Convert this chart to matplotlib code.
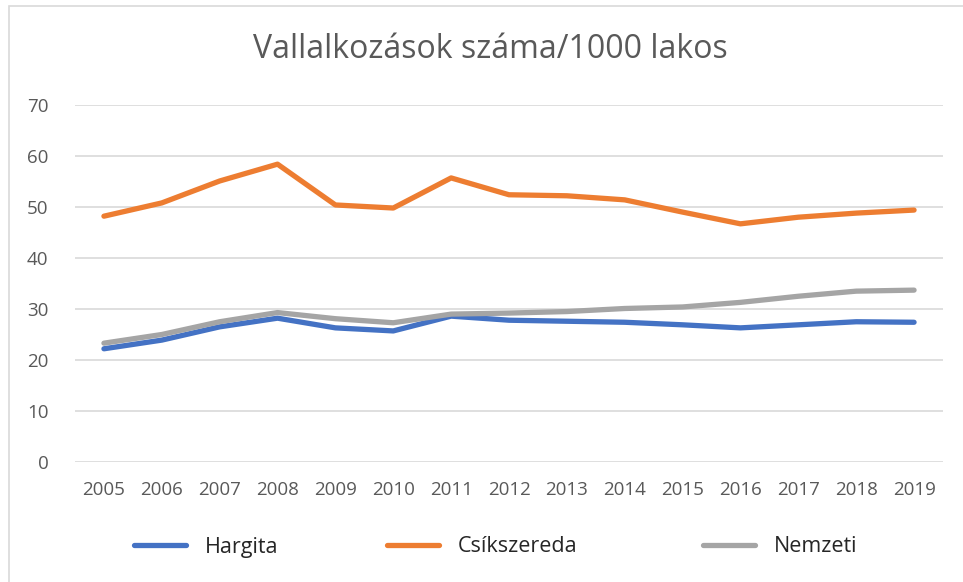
import matplotlib.pyplot as plt
from matplotlib.patches import Rectangle

years = [2005, 2006, 2007, 2008, 2009, 2010, 2011, 2012, 2013, 2014, 2015, 2016, 2017, 2018, 2019]
hargita = [22.2, 23.9, 26.5, 28.2, 26.3, 25.7, 28.6, 27.8, 27.6, 27.4, 26.9, 26.3, 26.9, 27.5, 27.4]
csikszereda = [48.2, 50.8, 55.1, 58.4, 50.4, 49.8, 55.7, 52.4, 52.2, 51.4, 49.0, 46.7, 48.0, 48.8, 49.4]
nemzeti = [23.3, 25.0, 27.5, 29.3, 28.1, 27.3, 29.0, 29.2, 29.5, 30.1, 30.4, 31.3, 32.5, 33.5, 33.7]
series_names = ['Hargita', 'Csíkszereda', 'Nemzeti']
colors = ['#4472C4', '#ED7D31', '#A5A5A5']
yticks = [0, 10, 20, 30, 40, 50, 60, 70]

plt.rcParams['font.family'] = ['Open Sans', 'DejaVu Sans']
txt = '#595959'

fig = plt.figure(figsize=(9.63, 5.82), dpi=100)
ax = fig.add_axes([75 / 963, 1 - 462 / 582, 868 / 963, 357 / 582])

x = list(range(len(years)))
handles = []
for vals, name, c in zip([hargita, csikszereda, nemzeti], series_names, colors):
    h, = ax.plot(x, vals, color=c, lw=3.8, label=name, solid_capstyle='round', solid_joinstyle='round')
    handles.append(h)

ax.set_xlim(-0.5, len(years) - 0.5)
ax.set_ylim(0, 70)
ax.set_yticks(yticks)
ax.set_xticks(x)
ax.set_xticklabels([str(y) for y in years])
ax.grid(axis='y', color='#D9D9D9', lw=1.2)
ax.set_axisbelow(True)
for s in ax.spines.values():
    s.set_visible(False)
ax.tick_params(length=0, labelsize=13.5, colors=txt)
ax.tick_params(axis='x', pad=14)
ax.tick_params(axis='y', pad=19)

fig.suptitle('Vallalkozások száma/1000 lakos', x=0.509, y=1 - 50 / 582, va='center',
             fontsize=23, color=txt)

# legend entries placed one by one (Excel spreads them out)
leg_x = [134 / 963, 387 / 963, 703 / 963]
for h, lx in zip(handles, leg_x):
    fig.legend([h], [h.get_label()], loc='center left', bbox_to_anchor=(lx, 1 - 547 / 582),
               frameon=False, fontsize=15.5, handlelength=2.4, handletextpad=0.9,
               labelcolor='#262626', borderaxespad=0, borderpad=0)

fig.patches.append(Rectangle((9 / 963, -0.01), 1.0, 1 - 6 / 582 + 0.01, transform=fig.transFigure,
                             fill=False, edgecolor='#D9D9D9', lw=1.2))

fig.savefig('out.png', dpi=100)
